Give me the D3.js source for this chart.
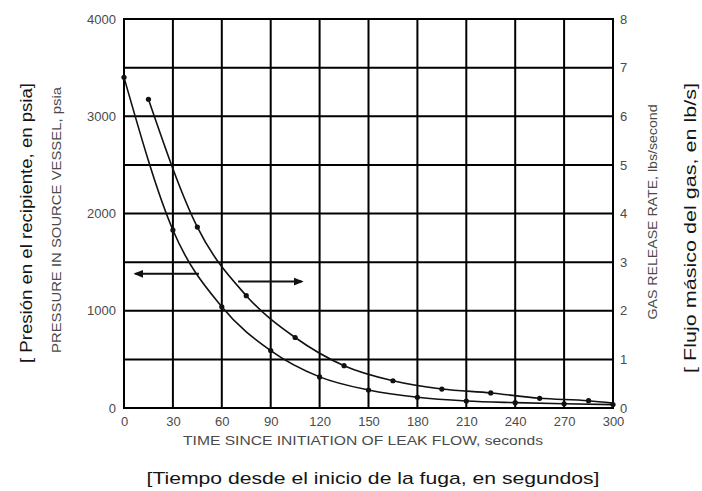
<!DOCTYPE html>
<html>
<head>
<meta charset="utf-8">
<script src="https://cdn.jsdelivr.net/npm/d3@7"></script>
<style>
  html, body { margin: 0; padding: 0; background: #fff; }
  svg { display: block; font-family: "Liberation Sans", Arial, sans-serif; }
</style>
</head>
<body>
<svg id="chart" width="702" height="491"></svg>
<script>
// Time axis (seconds since leak started)
const timeTicks = [0, 30, 60, 90, 120, 150, 180, 210, 240, 270, 300];
const pressureTicks = [0, 1000, 2000, 3000, 4000];
const pressureGrid = [0, 500, 1000, 1500, 2000, 2500, 3000, 3500, 4000];
const rateTicks = [0, 1, 2, 3, 4, 5, 6, 7, 8];

// Pressure in the source vessel, psia
const pressureTimes = [0, 30, 60, 90, 120, 150, 180, 210, 240, 270, 300];
const pressureValues = [3400, 1830, 1040, 590, 320, 185, 110, 72, 55, 43, 35];

// Gas release rate, lb/s (last point closes the curve at 300 s)
const rateTimes = [15, 45, 75, 105, 135, 165, 195, 225, 255, 285, 300];
const rateValues = [6.35, 3.72, 2.31, 1.45, 0.87, 0.56, 0.39, 0.31, 0.2, 0.15, 0.1];

// Arrows showing which axis each curve is read against
const arrowAxes = ["left", "right"];
const arrowLevels = [1380, 2.6];
const arrowFrom = [46, 70];
const arrowTo = [7, 109];

const svg = d3.select("#chart");
const margin = { left: 124, right: 89, top: 19, bottom: 83 };
const W = 702, H = 491;
const iw = W - margin.left - margin.right;
const ih = H - margin.top - margin.bottom;

const x = d3.scaleLinear().domain([0, 300]).range([margin.left, margin.left + iw]);
const yP = d3.scaleLinear().domain([0, 4000]).range([margin.top + ih, margin.top]);
const yR = d3.scaleLinear().domain([0, 8]).range([margin.top + ih, margin.top]);

const tickColor = "#4a4a4a";

// Grid
const grid = svg.append("g").attr("stroke", "#000").attr("stroke-width", 2);
grid.selectAll("line.v").data(timeTicks).join("line")
  .attr("class", "v")
  .attr("x1", d => x(d)).attr("x2", d => x(d))
  .attr("y1", yP(4000) - 1).attr("y2", yP(0) + 1);
grid.selectAll("line.h").data(pressureGrid).join("line")
  .attr("class", "h")
  .attr("x1", x(0) - 1).attr("x2", x(300) + 1)
  .attr("y1", d => yP(d)).attr("y2", d => yP(d));

// Axes (labels only; grid lines act as ticks)
function styleAxis(g) {
  g.select(".domain").remove();
  g.selectAll(".tick line").remove();
  g.selectAll("text")
    .attr("fill", tickColor)
    .style("font-size", "13px")
    .style("font-family", "'Liberation Sans', Arial, sans-serif");
}
svg.append("g")
  .attr("transform", `translate(0,${yP(0)})`)
  .call(d3.axisBottom(x).tickValues(timeTicks).tickSize(0).tickPadding(9).tickFormat(d3.format("d")))
  .call(styleAxis);
svg.append("g")
  .attr("transform", `translate(${x(0)},0)`)
  .call(d3.axisLeft(yP).tickValues(pressureTicks).tickSize(0).tickPadding(8).tickFormat(d3.format("d")))
  .call(styleAxis);
svg.append("g")
  .attr("transform", `translate(${x(300)},0)`)
  .call(d3.axisRight(yR).tickValues(rateTicks).tickSize(0).tickPadding(7).tickFormat(d3.format("d")))
  .call(styleAxis);

// Curves
const pressurePts = pressureTimes.map((t, i) => [t, pressureValues[i]]);
const ratePts = rateTimes.map((t, i) => [t, rateValues[i]]);

const lineP = d3.line().x(d => x(d[0])).y(d => yP(d[1])).curve(d3.curveMonotoneX);
const lineR = d3.line().x(d => x(d[0])).y(d => yR(d[1])).curve(d3.curveMonotoneX);

svg.append("path").datum(pressurePts)
  .attr("d", lineP).attr("fill", "none").attr("stroke", "#111").attr("stroke-width", 1.6);
svg.append("path").datum(ratePts)
  .attr("d", lineR).attr("fill", "none").attr("stroke", "#111").attr("stroke-width", 1.6);

svg.append("g").selectAll("circle").data(pressurePts).join("circle")
  .attr("cx", d => x(d[0])).attr("cy", d => yP(d[1])).attr("r", 2.6).attr("fill", "#111");
svg.append("g").selectAll("circle").data(ratePts.slice(0, -1)).join("circle")
  .attr("cx", d => x(d[0])).attr("cy", d => yR(d[1])).attr("r", 2.6).attr("fill", "#111");

// Axis pointer arrows
const defs = svg.append("defs");
defs.append("marker")
  .attr("id", "head").attr("viewBox", "0 0 10 10")
  .attr("refX", 8).attr("refY", 5)
  .attr("markerWidth", 5).attr("markerHeight", 5)
  .attr("markerUnits", "strokeWidth")
  .attr("orient", "auto")
  .append("path").attr("d", "M0,1 L10,5 L0,9 Z").attr("fill", "#111");

arrowAxes.forEach((axis, i) => {
  const yy = axis === "left" ? yP(arrowLevels[i]) : yR(arrowLevels[i]);
  svg.append("line")
    .attr("x1", x(arrowFrom[i])).attr("x2", x(arrowTo[i]))
    .attr("y1", yy).attr("y2", yy)
    .attr("stroke", "#111").attr("stroke-width", 2)
    .attr("marker-end", "url(#head)");
});

// Axis titles
function title(text, cx, cy, rot, size, color, len) {
  svg.append("text")
    .attr("transform", `translate(${cx},${cy}) rotate(${rot})`)
    .attr("text-anchor", "middle")
    .attr("dominant-baseline", "central")
    .attr("fill", color)
    .style("font-size", size + "px")
    .attr("textLength", len)
    .attr("lengthAdjust", "spacingAndGlyphs")
    .text(text);
}
title("[ Presión en el recipiente, en psia]", 26, 223, -90, 16, "#151515", 280);
title("PRESSURE IN SOURCE VESSEL, psia", 57, 220, -90, 12, "#4a4a4a", 266);
title("GAS RELEASE RATE, lbs/second", 653, 212, -90, 12, "#4a4a4a", 215);
title("[ Flujo másico del gas, en lb/s]", 690, 228, -90, 16, "#151515", 290);
title("TIME SINCE INITIATION OF LEAK FLOW, seconds", 363, 441, 0, 12, "#4a4a4a", 360);
title("[Tiempo desde el inicio de la fuga, en segundos]", 373, 478, 0, 17, "#151515", 453);
</script>
</body>
</html>
